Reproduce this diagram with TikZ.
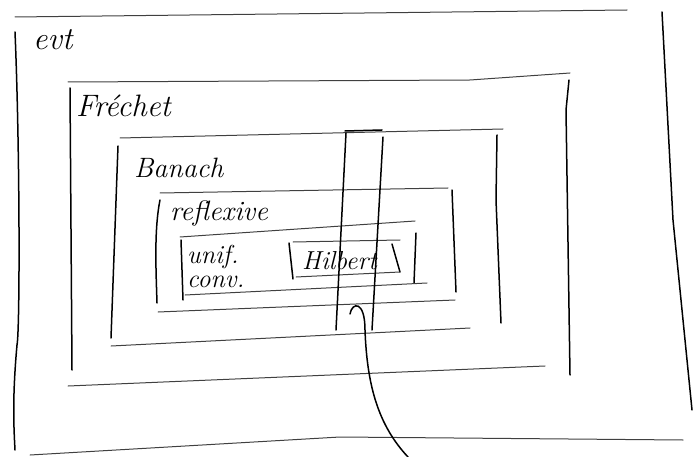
\documentclass[tikz,border=0pt]{standalone}
\usepackage{fontspec}
\usepackage{tikz}
\begin{document}
\begin{tikzpicture}[x=1pt,y=-1pt,
    every node/.style={font=\fontsize{28}{28}\selectfont\itshape,inner sep=0pt},
    side/.style={line width=1.5pt,line cap=round},
    rim/.style={line width=1pt,black!75,line cap=round},
    lbl/.style={anchor=west,align=left},
  ]
  \useasboundingbox (0,0) rectangle (693,457);

  % evt
  \draw[rim] (15,17) -- (627,10);
  \draw[side] (15,32) .. controls (20,150) and (20,330) .. (17,345) .. controls (12,400) and (14,430) .. (15,450);
  \draw[side] (662,12) -- (673,220) -- (692,410);
  \draw[rim] (30,455) -- (340,437) -- (683,440);
  \node[lbl,font=\fontsize{32}{32}\selectfont\itshape] (evt) at (33,40) {evt};

  % Frechet
  \draw[rim] (68,82) -- (470,80) -- (570,73);
  \draw[side] (70,88) -- (72,370);
  \draw[side] (569,80) -- (566,110) -- (570,375);
  \draw[rim] (68,386) -- (545,366);
  \node[lbl,font=\fontsize{31}{31}\selectfont\itshape] (frechet) at (76,106) {Fréchet};

  % Banach
  \draw[rim] (120,138) -- (503,129);
  \draw[side] (118,146) -- (111,338);
  \draw[side] (497,135) -- (496,200) -- (501,323);
  \draw[rim] (111,346) -- (470,328);
  \node[lbl] (banach) at (134,168) {Banach};

  % reflexive
  \draw[rim] (160,193) -- (448,188);
  \draw[side] (160,200) .. controls (154,230) and (156,270) .. (157,303);
  \draw[side] (452,190) -- (456,292);
  \draw[rim] (158,312) -- (455,300);
  \node[lbl] (reflexive) at (170,214) {reflexive};

  % unif. conv.
  \draw[rim] (180,237) -- (415,221);
  \draw[side] (181,240) -- (183,300);
  \draw[side] (416,233) -- (414,283);
  \draw[rim] (185,295) -- (427,283);
  \node[lbl,font=\fontsize{26}{24}\selectfont\itshape] (unifconv) at (187,266) {unif.\\conv.};

  % Hilbert
  \draw[rim] (293,242) -- (400,240);
  \draw[side] (289,243) -- (293,279);
  \draw[side] (392,244) -- (400,272);
  \draw[rim] (296,277) -- (400,272);
  \node[lbl,font=\fontsize{26}{26}\selectfont\itshape] (hilbert) at (302,261) {Hilbert};

  % strip and curve
  \draw[side] (345,131) -- (382,130);
  \draw[side] (346,133) -- (336,330);
  \draw[side] (383,137) -- (372,330);
  \draw[side] (350,314) .. controls (352,302) and (365,300) .. (365,330)
    .. controls (367,385) and (378,425) .. (408,457);
\end{tikzpicture}
\end{document}
